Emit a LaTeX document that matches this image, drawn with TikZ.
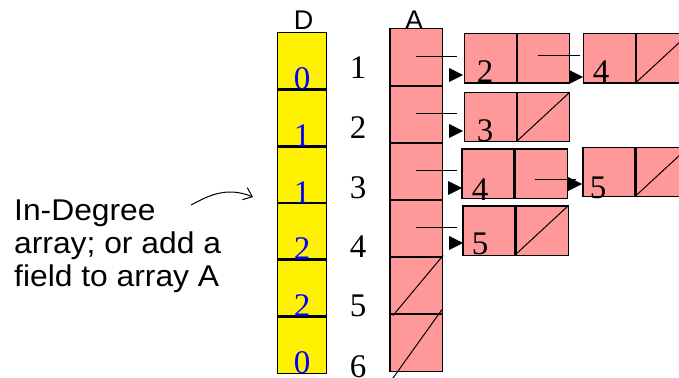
\documentclass[tikz,border=0pt]{standalone}
\usepackage{fontspec}
\setmainfont{Liberation Serif}
\newfontfamily\headfont{Liberation Sans}
\newfontfamily\notefont[FakeStretch=1.06]{Liberation Sans}
\usetikzlibrary{arrows.meta}
\definecolor{cellpink}{RGB}{255,153,153}
\definecolor{degblue}{RGB}{0,0,255}

\tikzset{
  cellbase/.style={line width=1.3pt, inner sep=0pt},
  dcell/.style={cellbase, fill=yellow, minimum width=48pt, minimum height=56.67pt},
  acell/.style={cellbase, fill=cellpink, minimum width=51pt, minimum height=57pt},
  lcell/.style={cellbase, fill=cellpink, minimum width=52pt, minimum height=48pt},
  frame/.style={line width=1.3pt},
  nilslash/.style={line width=1pt},
  stub/.style={line width=1pt},
  tiphead/.style={fill=black},
  digit/.style={font=\fontsize{33}{33}\selectfont, anchor=base, inner sep=0pt},
  degdigit/.style={digit, text=degblue},
  head/.style={font=\headfont\fontsize{27}{30}\selectfont, anchor=base, inner sep=0pt},
  note/.style={font=\notefont\fontsize{30}{33}\selectfont, align=left,
               anchor=north west, inner sep=0pt},
}

\begin{document}
\begin{tikzpicture}[x=1pt,y=-1pt]
\useasboundingbox (0,0) rectangle (679,377);
\clip (0,0) rectangle (679,377);

% in-degree array D
\foreach \i/\y in {1/61.33,2/118,3/174.67,4/231.33,5/288,6/344.67}
  \node[dcell] (d\i) at (302,\y) {};
\node[head] (dhead) at (303.5,30) {D};

% adjacency array A
\foreach \i/\y in {1/57.5,2/114.5,3/171.5,4/228.5,5/285.5,6/342.5}
  \node[acell] (a\i) at (416,\y) {};
\node[head] (ahead) at (414,30) {A};

% adjacency list cells
\node[lcell] (l1a) at (491,58.5) {};
\node[lcell] (l1b) at (543,58.5) {};
\node[lcell] (l1c) at (610,58.5) {};
\node[lcell] (l1d) at (662,58.5) {};
\node[lcell] (l2a) at (491,117) {};
\node[lcell] (l2b) at (543,117) {};
\node[lcell] (l3a) at (488.5,173.5) {};
\node[lcell] (l3b) at (540.5,173.5) {};
\node[lcell] (l3c) at (609.5,172) {};
\node[lcell] (l3d) at (661.5,172) {};
\node[lcell] (l4a) at (489.5,230.5) {};
\node[lcell] (l4b) at (541.5,230.5) {};

% cell borders, drawn over all fills so shared edges keep full width
\foreach \c in {d1,d2,d3,d4,d5,d6,a1,a2,a3,a4,a5,a6,
                l1a,l1b,l1c,l1d,l2a,l2b,l3a,l3b,l3c,l3d,l4a,l4b}
  \draw[frame] (\c.north west) rectangle (\c.south east);

% in-degree values
\foreach \i/\v in {1/0,2/1,3/1,4/2,5/2,6/0}
  \node[degdigit] (dv\i) at ([yshift=0.5pt]d\i.south) {\v};

% vertex indices
\foreach \i/\y in {1/79,2/138,3/198,4/257,5/316,6/377}
  \node[digit] (idx\i) at (358,\y) {\i};

% nil pointers
\draw[nilslash] ([xshift=3pt,yshift=-1pt]a5.south west) -- ([xshift=1pt,yshift=1pt]a5.north east);
\draw[nilslash] ([xshift=2pt,yshift=-8pt]a6.south west) -- ([xshift=0pt,yshift=4pt]a6.north east);
\foreach \c in {l1d,l2b,l3d,l4b}
  \draw[nilslash] (\c.south west) -- (\c.north east);

% list entries
\node[digit] (e12) at (485,83) {2};
\node[digit] (e14) at (601,83) {4};
\node[digit] (e23) at (485,141) {3};
\node[digit] (e34) at (480,200) {4};
\node[digit] (e35) at (598,198) {5};
\node[digit] (e45) at (480,254) {5};

% pointer stubs
\foreach \i in {1,2,3,4}
  \draw[stub] ([yshift=1pt]a\i.center) -- ++(41,0);
\draw[stub] ([xshift=-5pt,yshift=2.5pt]l1b.center) -- ++(42,0);
\draw[stub] ([xshift=-6pt,yshift=-5.5pt]l3b.center) -- ++(41,0);

% arrow heads in front of the list cells
\coordinate (t1) at (463,75);
\coordinate (t2) at (583,77);
\coordinate (t3) at (463,131);
\coordinate (t4) at (462,188);
\coordinate (t5) at (582,184);
\coordinate (t6) at (463,243);
\foreach \t in {t1,t2,t3,t4,t5,t6}
  \fill[tiphead] (\t) -- ++(-14,-7) -- ++(0,14) -- cycle;

% note with its curved arrow
\node[note] (note) at (14,200) {In-Degree\\array; or add a\\field to array A};
\coordinate (cs) at (191,205);
\coordinate (ce) at (253,197);
\draw[line width=1pt, -{Straight Barb[length=8pt,width=13pt]}]
  (cs) .. controls (208,196) and (226,186) .. (ce);
\end{tikzpicture}
\end{document}
